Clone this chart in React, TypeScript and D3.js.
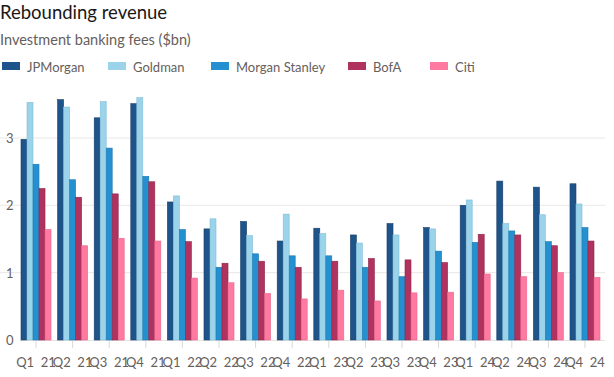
import React from "react";
import * as d3 from "d3";

const quarters = ["Q1 21","Q2 21","Q3 21","Q4 21","Q1 22","Q2 22","Q3 22","Q4 22","Q1 23","Q2 23","Q3 23","Q4 23","Q1 24","Q2 24","Q3 24","Q4 24"];
const banks = ["JPMorgan","Goldman","Morgan Stanley","BofA","Citi"];
const jpmorgan = [2.98,3.57,3.30,3.51,2.05,1.65,1.76,1.47,1.66,1.56,1.73,1.67,2.00,2.36,2.27,2.32];
const goldman = [3.53,3.46,3.54,3.60,2.14,1.80,1.55,1.87,1.58,1.44,1.56,1.65,2.08,1.73,1.86,2.02];
const morganStanley = [2.61,2.38,2.85,2.43,1.64,1.08,1.28,1.25,1.25,1.08,0.94,1.32,1.45,1.62,1.46,1.67];
const bofa = [2.25,2.12,2.17,2.35,1.46,1.14,1.17,1.08,1.17,1.21,1.19,1.15,1.57,1.56,1.40,1.47];
const citi = [1.64,1.40,1.51,1.47,0.92,0.85,0.69,0.61,0.74,0.58,0.70,0.71,0.98,0.94,1.00,0.93];
const yTicks = [0,1,2,3];
const colors = ["#1f548b","#9ad3ea","#2590d0","#b0325f","#ff7aa1"];
const strokes = ["#173f6a","#83bfd8","#1c78b0","#8f2549","#e8668c"];
const series = [jpmorgan, goldman, morganStanley, bofa, citi];

export default function App() {
  const W = 614, H = 377;
  const font = "Lato, sans-serif";
  const x0 = d3.scaleBand().domain(quarters).range([21, 600]).paddingInner(0.18).paddingOuter(0);
  const x1 = d3.scaleBand().domain(banks).range([0, x0.bandwidth()]);
  const y = d3.scaleLinear().domain([0, 3]).range([340, 138]);
  const legendX = [2, 108, 211, 348, 430];
  return (
    <svg width={W} height={H} style={{ position: "absolute", left: 0, top: 0, background: "#fff" }} fontFamily={font}>
      <text x={0} y={19} fontSize={18.5} fill="#1a1817">Rebounding revenue</text>
      <text x={0} y={45} fontSize={14.5} fill="#66605c">Investment banking fees ($bn)</text>
      {banks.map((b, i) => (
        <g key={b}>
          <rect x={legendX[i]} y={62} width={18} height={8} fill={colors[i]} />
          <text x={legendX[i] + 25} y={72} fontSize={13} fill="#66605c">{b}</text>
        </g>
      ))}
      {yTicks.map(t => (
        <g key={t}>
          {t > 0 && <line x1={0} x2={605} y1={y(t)} y2={y(t)} stroke="#ebe7e4" strokeWidth={1} />}
          <text x={6} y={y(t) + 5} fontSize={13} fill="#66605c">{t}</text>
        </g>
      ))}
      <line x1={20} x2={605} y1={y(0) + 0.5} y2={y(0) + 0.5} stroke="#e6e2df" />
      {quarters.map((q, qi) => {
        const gx = x0(q)!;
        const cx = gx + x0.bandwidth() / 2;
        return (
          <g key={q}>
            <line x1={cx} x2={cx} y1={y(0)} y2={y(0) + 8} stroke="#ddd8d4" />
            {series.map((s, si) => (
              <rect key={si} x={gx + x1(banks[si])!} y={y(s[qi])} width={x1.bandwidth()} height={y(0) - y(s[qi])}
                fill={colors[si]} stroke={strokes[si]} strokeWidth={0.6} />
            ))}
            <text x={cx} y={367} fontSize={13} fill="#66605c" textAnchor="middle">{q.split(" ")[0] + "\u00a0\u00a0" + q.split(" ")[1]}</text>
          </g>
        );
      })}
    </svg>
  );
}
